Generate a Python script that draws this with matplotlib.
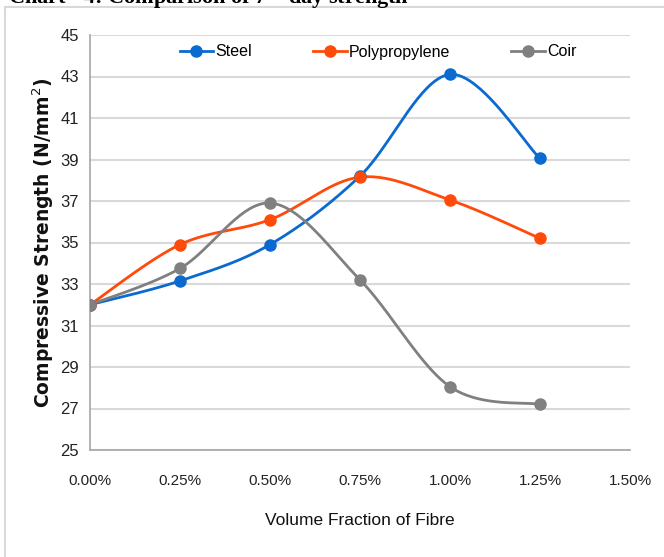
import numpy as np
import matplotlib
matplotlib.use("Agg")
import matplotlib.pyplot as plt
from matplotlib.lines import Line2D

# ---- data ----
fractions = [0.00, 0.25, 0.50, 0.75, 1.00, 1.25]
tick_labels = ["0.00%", "0.25%", "0.50%", "0.75%", "1.00%", "1.25%", "1.50%"]
steel = [32.0, 33.15, 34.9, 38.2, 43.1, 39.05]
polypropylene = [32.0, 34.9, 36.1, 38.15, 37.05, 35.2]
coir = [32.0, 33.75, 36.9, 33.2, 28.05, 27.2]
series_names = ["Steel", "Polypropylene", "Coir"]
colors = ["#0A6AD0", "#FF4A0A", "#808080"]

SANS = ["Liberation Sans", "DejaVu Sans"]


def smooth(xs, ys, n=40):
    P = np.column_stack([xs, ys]).astype(float)
    ext = np.vstack([P[0], P, P[-1]])
    t = np.linspace(0, 1, n)[:, None]
    segs = []
    for i in range(len(P) - 1):
        p0, p1, p2, p3 = ext[i], ext[i + 1], ext[i + 2], ext[i + 3]
        c1 = p1 + (p2 - p0) / 6.0
        c2 = p2 - (p3 - p1) / 6.0
        B = ((1 - t) ** 3) * p1 + 3 * ((1 - t) ** 2) * t * c1 + 3 * (1 - t) * t ** 2 * c2 + t ** 3 * p2
        segs.append(B if i == 0 else B[1:])
    S = np.vstack(segs)
    return S[:, 0], S[:, 1]


W, H = 664, 557
fig = plt.figure(figsize=(W / 100, H / 100), dpi=100)
fig.patch.set_facecolor("white")

ax = fig.add_axes([90 / W, 1 - 450 / H, (630 - 90) / W, (450 - 35) / H])

for ys, c in zip([steel, polypropylene, coir], colors):
    sx, sy = smooth(fractions, ys)
    ax.plot(sx, sy, color=c, lw=2.0, zorder=3, solid_capstyle="round")
    ax.plot(fractions, ys, "o", color=c, ms=8, zorder=4)

ax.set_xlim(0, 1.5)
ax.set_ylim(25, 45)
ax.set_xticks(np.arange(0, 1.51, 0.25))
ax.set_xticklabels(tick_labels, family=SANS, fontsize=11)
ax.set_yticks(np.arange(25, 46, 2))
ax.set_yticklabels([str(v) for v in range(25, 46, 2)], family=SANS, fontsize=12)
ax.tick_params(length=0, colors="#222222")
ax.tick_params(axis="y", pad=8)
ax.tick_params(axis="x", pad=17)
ax.grid(axis="y", color="#D9D9D9", lw=1.5, zorder=0)
for s in ["top", "right"]:
    ax.spines[s].set_visible(False)
for s in ["left", "bottom"]:
    ax.spines[s].set_color("#A6A6A6")
    ax.spines[s].set_linewidth(1.2)

ax.set_xlabel("Volume Fraction of Fibre", family=SANS, fontsize=12.5, labelpad=18, color="#111111")
ax.set_ylabel("Compressive Strength (N/mm$^{2}$)", family="DejaVu Sans", fontweight="bold",
              fontsize=13.5, color="#111111")
ax.yaxis.set_label_coords((56 - 90) / 540, 0.5)

handles = [Line2D([0], [0], color=c, lw=2.0, marker="o", ms=8) for c in colors]
fig.legend(handles, series_names, loc="center", bbox_to_anchor=(378 / W, 1 - 52 / H),
           ncol=3, frameon=False, prop={"family": SANS, "size": 11.5},
           handlelength=2.1, handletextpad=0.15, columnspacing=3.8)

# cut-off title at the top
fig.text(8 / W, 1 - 4 / H, "Chart - 4: Comparison of 7$^{th}$ day strength",
         family="Liberation Serif", fontweight="bold", fontsize=16, va="baseline", ha="left")

# light border around chart area
fig.add_artist(Line2D([5 / W, 1], [1 - 7 / H, 1 - 7 / H], color="#D9D9D9", lw=1.5, transform=fig.transFigure))
fig.add_artist(Line2D([5 / W, 5 / W], [0, 1 - 7 / H], color="#D9D9D9", lw=1.5, transform=fig.transFigure))

fig.savefig("out.png", dpi=100, facecolor="white")
